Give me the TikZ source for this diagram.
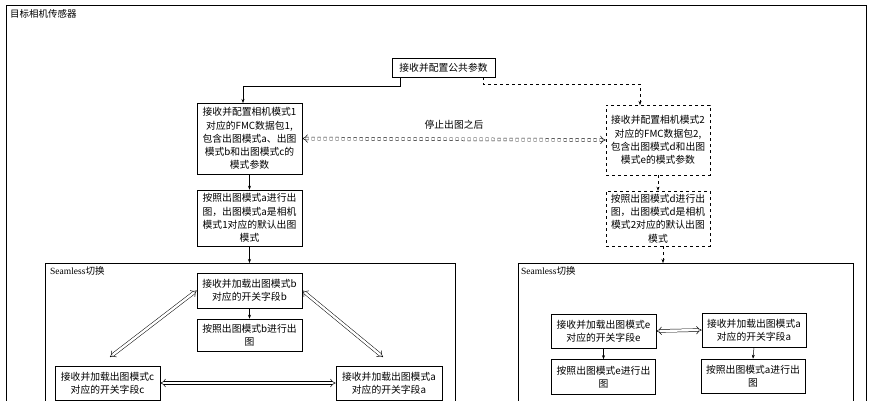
\documentclass[tikz,border=0pt]{standalone}
\usepackage{fontspec}
\setmainfont{Liberation Serif}
\newfontfamily\cjk{Noto Sans CJK SC}
\usetikzlibrary{arrows.meta}
\begin{document}
\begin{tikzpicture}[x=1pt,y=-1pt,
  box/.style={draw, rectangle, inner sep=1pt, align=center, font=\cjk\fontsize{9.8}{13.2}\selectfont, line width=0.6pt},
  dbox/.style={box, dashed},
  lbl/.style={anchor=west, font=\cjk\fontsize{9.5}{11}\selectfont, inner sep=0pt},
  arr/.style={-{Stealth[length=4pt,width=3pt]}, line width=0.5pt},
  dbl/.style={double, double distance=2.4pt, line width=0.5pt, {Implies[length=5pt]}-{Implies[length=5pt]}}]
\useasboundingbox (0,0) rectangle (871,400);
\fill[white] (0,0) rectangle (871,400);
% outer frame
\draw[line width=0.6pt] (6,405) -- (6,5) -- (866,5) -- (866,405);
\node[lbl] (title) at (10,14) {目标相机传感器};
% common
\node[box, minimum width=103pt, minimum height=19pt] (com) at (443.5,67.5) {接收并配置公共参数};
\node[box, minimum width=105pt, minimum height=71pt] (b1) at (249.5,138.5) {接收并配置相机模式1\\对应的FMC数据包1,\\包含出图模式a、出图\\模式b和出图模式c的\\模式参数};
\node[dbox, minimum width=104pt, minimum height=70pt] (b2) at (658,140) {接收并配置相机模式2\\对应的FMC数据包2,\\包含出图模式d和出图\\模式e的模式参数};
\node[box, minimum width=105pt, minimum height=56pt] (b3) at (249.5,218) {按照出图模式a进行出\\图，出图模式a是相机\\模式1对应的默认出图\\模式};
\node[dbox, minimum width=104pt, minimum height=55pt] (b4) at (658,218.5) {按照出图模式d进行出\\图，出图模式d是相机\\模式2对应的默认出图\\模式};
\coordinate (c1) at (400,77);
\coordinate (c2) at (483,77);
\draw[arr] (c1) -- (400,86) -- (243,86) -- (243,103);
\draw[arr, dashed] (c2) -- (483,84) -- (640,84) -- (640,105);
\draw[dbl, dashed] (b1.east) -- (b2.west) node[midway, above=6pt, font=\cjk\fontsize{9.8}{11}\selectfont] {停止出图之后};
\draw[arr] (b1.south) -- (b3.north);
\draw[arr, dashed] (b2.south) -- (b4.north);
% seamless frames
\draw[line width=0.6pt] (45,405) -- (45,263) -- (455,263) -- (455,405);
\draw[line width=0.6pt] (518,405) -- (518,263) -- (853,263) -- (853,405);
\node[lbl, font=\fontsize{9.5}{11}\selectfont] (s1) at (50,271) {Seamless\cjk 切换};
\node[lbl, font=\fontsize{9.5}{11}\selectfont] (s2) at (521,271) {Seamless\cjk 切换};
\coordinate (t1) at (249.5,263);
\coordinate (t2) at (663,263);
\draw[arr] (b3.south) -- (t1);
\draw[arr, dashed] (663,246) -- (t2);
% left inner
\node[box, minimum width=105pt, minimum height=35pt] (lb) at (249.5,290.5) {接收并加载出图模式b\\对应的开关字段b};
\node[box, minimum width=105pt, minimum height=32pt] (lb2) at (249.5,335) {按照出图模式b进行出\\图};
\node[box, minimum width=105pt, minimum height=34pt] (lc) at (107.5,383) {接收并加载出图模式c\\对应的开关字段c};
\node[box, minimum width=106pt, minimum height=34pt] (la) at (389,383) {接收并加载出图模式a\\对应的开关字段a};
\draw[arr] (lb.south) -- (lb2.north);
\draw[dbl] (lb.west) -- (110,357);
\draw[dbl] (lb.east) -- (383,357);
\draw[dbl] (lc.east) -- (la.west);
% right inner
\node[box, minimum width=105pt, minimum height=34pt] (re) at (603.5,331) {接收并加载出图模式e\\对应的开关字段e};
\node[box, minimum width=104pt, minimum height=34pt] (ra) at (754,330) {接收并加载出图模式a\\对应的开关字段a};
\node[box, minimum width=104pt, minimum height=35pt] (re2) at (603.5,377) {按照出图模式e进行出\\图};
\node[box, minimum width=104pt, minimum height=34pt] (ra2) at (753,376) {按照出图模式a进行出\\图};
\draw[arr] (re.south) -- (re2.north);
\draw[arr] (ra.south) -- (ra2.north);
\draw[dbl] (re.east) -- (ra.west);
\end{tikzpicture}
\end{document}
